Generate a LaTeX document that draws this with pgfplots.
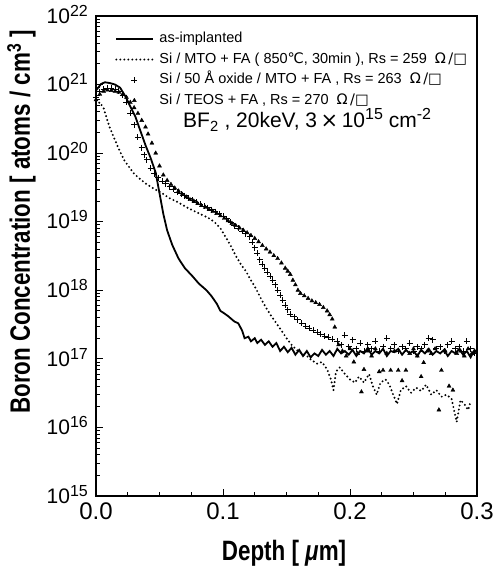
\documentclass[border=0pt]{standalone}
\usepackage{pgfplots}
\pgfplotsset{compat=1.18}
\usepackage{fontspec}
\setmainfont{Liberation Sans}
\newfontfamily\dejavu{DejaVu Sans}
\newcommand{\ohmsq}{\ \ {\dejavu Ω\,/□}}
\newcommand{\ex}[1]{10\raisebox{7pt}[0pt][0pt]{\fontsize{16}{16}\selectfont #1}}
\begin{document}
\begin{tikzpicture}
\begin{axis}[
  at={(0pt,0pt)}, anchor=south west,
  scale only axis, width=381pt, height=480pt,
  xmin=0, xmax=0.3, ymode=log, ymin=1e15, ymax=1e22,
  xtick={0,0.1,0.2,0.3}, xticklabels={0.0,0.1,0.2,0.3},
  minor x tick num=3,
  ytick={1e15,1e16,1e17,1e18,1e19,1e20,1e21,1e22},
  yticklabels={\ex{15},\ex{16},\ex{17},\ex{18},\ex{19},\ex{20},\ex{21},\ex{22}},
  minor ytick={2e15,3e15,4e15,5e15,6e15,7e15,8e15,9e15,
               2e16,3e16,4e16,5e16,6e16,7e16,8e16,9e16,
               2e17,3e17,4e17,5e17,6e17,7e17,8e17,9e17,
               2e18,3e18,4e18,5e18,6e18,7e18,8e18,9e18,
               2e19,3e19,4e19,5e19,6e19,7e19,8e19,9e19,
               2e20,3e20,4e20,5e20,6e20,7e20,8e20,9e20,
               2e21,3e21,4e21,5e21,6e21,7e21,8e21,9e21},
  tick pos=left, tick align=inside,
  major tick length=7pt, minor tick length=4pt,
  axis line style={line width=1.5pt},
  every tick/.style={black, line width=0.9pt},
  xticklabel style={font=\fontsize{24}{24}\selectfont, inner sep=0pt, yshift=-7pt},
  yticklabel style={font=\fontsize{21}{21}\selectfont, inner sep=0pt, xshift=-8pt},
  legend cell align=left,
  legend style={draw=none, fill=none, at={(0.05,0.968)}, anchor=north west,
    font=\fontsize{14.5}{16}\selectfont, row sep=5.5pt, inner sep=0pt,
    nodes={inner sep=1pt, text height=10pt, text depth=3pt},
    /tikz/every odd column/.append style={column sep=4pt}},
]
% as-implanted
\addplot[black, line width=1.8pt, legend image code/.code={\draw[black,line width=1.8pt] (0pt,0pt)--(37pt,0pt);}] coordinates {
(0.000,8.2e20)(0.004,1.02e21)(0.007,1.08e21)(0.011,1.05e21)(0.015,1.0e21)(0.019,9.0e20)
(0.023,6.8e20)(0.027,4.8e20)(0.031,3.4e20)(0.035,2.1e20)(0.039,1.3e20)(0.043,8.5e19)
(0.047,5.2e19)(0.050,2.6e19)(0.053,1.3e19)(0.056,7.5e18)(0.060,4.6e18)(0.065,2.9e18)
(0.070,2.1e18)(0.076,1.6e18)(0.081,1.25e18)(0.087,1.0e18)(0.091,8.2e17)(0.095,6.4e17)
(0.098,5.0e17)(0.101,4.6e17)(0.104,4.2e17)(0.106,3.9e17)(0.109,3.5e17)(0.112,3.3e17)
(0.115,2.6e17)(0.117,2.0e17)(0.120,2.1e17)(0.122,1.8e17)(0.125,2.0e17)(0.127,1.7e17)
(0.130,1.9e17)(0.133,1.6e17)(0.136,1.8e17)(0.139,1.5e17)(0.142,1.7e17)(0.145,1.3e17)
(0.148,1.5e17)(0.151,1.25e17)(0.154,1.45e17)(0.157,1.15e17)(0.160,1.35e17)(0.163,1.1e17)
(0.166,1.3e17)(0.169,1.05e17)(0.172,1.2e17)(0.175,1.1e17)(0.178,1.35e17)(0.181,1.15e17)
(0.184,1.3e17)(0.187,1.1e17)(0.190,1.4e17)(0.193,1.2e17)(0.196,1.3e17)(0.199,1.15e17)
(0.202,1.35e17)(0.205,1.1e17)(0.208,1.3e17)(0.211,1.2e17)(0.214,1.45e17)(0.217,1.15e17)
(0.220,1.3e17)(0.223,1.2e17)(0.226,1.4e17)(0.229,1.1e17)(0.232,1.3e17)(0.235,1.25e17)
(0.238,1.4e17)(0.241,1.15e17)(0.244,1.35e17)(0.247,1.2e17)(0.250,1.3e17)(0.253,1.1e17)
(0.256,1.35e17)(0.259,1.2e17)(0.262,1.4e17)(0.265,1.15e17)(0.268,1.3e17)(0.271,1.2e17)
(0.274,1.35e17)(0.277,1.1e17)(0.280,1.3e17)(0.283,1.2e17)(0.286,1.4e17)(0.289,1.15e17)
(0.292,1.3e17)(0.295,1.05e17)(0.298,1.35e17)(0.300,1.2e17)
};
\addlegendentry{as-implanted}
% MTO dotted
\addplot[black, line width=2.2pt, line cap=round, dash pattern=on 0pt off 4pt,
  legend image code/.code={\draw[black,line width=2.2pt,line cap=round,dash pattern=on 0pt off 4pt] (0pt,0pt)--(37pt,0pt);}] coordinates {
(0.000,5.0e20)(0.003,5.5e20)(0.006,4.5e20)(0.010,2.6e20)(0.014,1.7e20)(0.018,1.15e20)
(0.022,8.0e19)(0.026,6.3e19)(0.030,5.0e19)(0.034,4.3e19)(0.040,3.5e19)(0.046,3.0e19)
(0.052,2.6e19)(0.058,2.2e19)(0.065,1.9e19)(0.072,1.6e19)(0.080,1.35e19)(0.088,1.15e19)
(0.093,1.0e19)(0.098,8.0e18)(0.102,6.0e18)(0.106,4.5e18)(0.110,3.2e18)(0.114,2.4e18)
(0.118,1.9e18)(0.122,1.4e18)(0.126,1.05e18)(0.130,7.5e17)(0.134,5.5e17)(0.138,4.2e17)
(0.142,3.3e17)(0.146,2.6e17)(0.150,2.0e17)(0.154,1.6e17)(0.158,1.35e17)(0.162,1.2e17)
(0.166,1.1e17)(0.170,9.5e16)(0.174,8.5e16)(0.178,9.0e16)(0.182,7.0e16)(0.185,5.0e16)
(0.187,3.5e16)(0.189,6.5e16)(0.192,7.5e16)(0.196,6.0e16)(0.200,5.0e16)(0.204,4.5e16)
(0.207,5.5e16)(0.211,4.5e16)(0.215,6.0e16)(0.218,4.0e16)(0.221,3.0e16)(0.224,4.5e16)
(0.228,5.0e16)(0.231,4.2e16)(0.234,3.0e16)(0.237,2.2e16)(0.240,3.5e16)(0.244,4.0e16)
(0.248,3.2e16)(0.252,3.8e16)(0.256,3.4e16)(0.260,4.2e16)(0.264,3.0e16)(0.268,3.5e16)
(0.272,2.8e16)(0.276,3.0e16)(0.280,2.6e16)(0.284,1.2e16)(0.287,2.5e16)(0.290,2.2e16)
(0.293,1.8e16)(0.295,2.4e16)
};
\addlegendentry{Si / MTO + FA ( 850{\dejavu ℃}, 30min ), Rs = 259\ohmsq}
% 50A oxide plus
\addplot[black, only marks, mark=+, mark size=3pt, mark options={line width=0.9pt},
  legend image code/.code={\draw[black,line width=0.9pt] plot[mark=+,mark size=3pt] coordinates {(18pt,0pt)};}] coordinates {
(0.000,6.5e20)(0.003,7.8e20)(0.006,8.6e20)(0.009,8.9e20)(0.012,8.8e20)(0.015,8.6e20)
(0.018,8.0e20)(0.021,7.0e20)(0.024,5.5e20)(0.027,3.8e20)(0.030,2.6e20)(0.033,1.7e20)
(0.036,1.2e20)(0.038,9.5e19)(0.040,8.0e19)(0.043,6.0e19)(0.046,5.0e19)(0.049,4.4e19)
(0.052,3.9e19)(0.055,3.6e19)(0.058,3.25e19)(0.061,2.95e19)(0.064,2.7e19)(0.067,2.55e19)
(0.070,2.4e19)(0.073,2.2e19)(0.076,2.05e19)(0.079,1.92e19)(0.082,1.8e19)(0.085,1.68e19)
(0.088,1.6e19)(0.091,1.5e19)(0.094,1.4e19)(0.097,1.3e19)(0.100,1.2e19)(0.103,1.1e19)
(0.106,9.8e18)(0.109,8.8e18)(0.112,8.0e18)(0.115,7.3e18)(0.118,6.7e18)(0.121,6.0e18)
(0.123,5.0e18)(0.125,4.2e18)(0.127,3.5e18)(0.129,2.8e18)(0.131,2.4e18)(0.133,2.1e18)
(0.135,1.85e18)(0.137,1.6e18)(0.139,1.4e18)(0.141,1.2e18)(0.143,1.0e18)(0.145,8.5e17)
(0.147,7.2e17)(0.149,6.0e17)(0.151,5.2e17)(0.153,4.5e17)(0.156,4.1e17)(0.159,3.7e17)
(0.162,3.3e17)(0.165,3.0e17)(0.168,2.8e17)(0.171,2.6e17)(0.174,2.45e17)(0.177,2.3e17)
(0.180,2.15e17)(0.183,2.05e17)(0.186,1.95e17)
(0.190,1.8e17)(0.193,1.6e17)(0.196,2.2e17)(0.199,1.5e17)(0.202,1.9e17)
(0.205,1.4e17)(0.208,1.7e17)(0.211,1.3e17)(0.214,1.6e17)(0.217,1.4e17)(0.220,1.8e17)
(0.223,1.3e17)(0.226,1.5e17)(0.229,2.0e17)(0.232,1.4e17)(0.235,1.6e17)(0.238,1.3e17)
(0.241,1.5e17)(0.244,1.4e17)(0.247,1.7e17)(0.250,1.3e17)(0.253,1.5e17)(0.256,1.4e17)
(0.259,1.6e17)(0.262,2.0e17)(0.265,1.9e17)(0.268,1.4e17)(0.271,1.5e17)(0.274,1.3e17)
(0.277,1.6e17)(0.280,1.8e17)(0.283,1.4e17)(0.286,1.5e17)(0.289,1.3e17)(0.292,1.8e17)
(0.295,1.4e17)(0.298,1.2e17)
};
\addlegendentry{Si / 50 Å oxide / MTO + FA , Rs = 263\ohmsq}
% TEOS triangles
\addplot[black, only marks, mark=triangle*, mark size=2.3pt,
  legend image code/.code={\draw[black] plot[mark=triangle*,mark size=2.3pt] coordinates {(18pt,0pt)};}] coordinates {
(0.000,6.0e20)(0.003,7.2e20)(0.006,8.0e20)(0.009,8.3e20)(0.012,8.2e20)(0.015,8.0e20)
(0.018,7.7e20)(0.021,7.2e20)(0.024,6.5e20)(0.027,5.5e20)(0.030,4.6e20)(0.033,3.8e20)
(0.036,3.0e20)(0.039,2.4e20)(0.041,1.9e20)(0.044,1.4e20)(0.047,1.0e20)(0.050,6.5e19)
(0.053,4.8e19)(0.056,4.0e19)(0.059,3.5e19)(0.062,3.1e19)(0.065,2.8e19)(0.068,2.5e19)
(0.071,2.3e19)(0.074,2.1e19)(0.077,2.0e19)(0.080,1.85e19)(0.083,1.72e19)(0.086,1.62e19)
(0.089,1.5e19)(0.092,1.42e19)(0.095,1.32e19)(0.098,1.22e19)(0.101,1.12e19)(0.104,1.03e19)
(0.107,9.5e18)(0.110,8.8e18)(0.113,8.1e18)(0.116,7.5e18)(0.119,6.9e18)(0.122,6.3e18)
(0.125,5.7e18)(0.128,5.1e18)(0.131,4.5e18)(0.134,4.0e18)(0.137,3.6e18)(0.140,3.2e18)
(0.143,2.9e18)(0.146,2.5e18)(0.149,2.1e18)(0.151,1.9e18)(0.153,1.7e18)(0.155,1.4e18)
(0.157,1.2e18)(0.159,1.0e18)(0.161,9.0e17)(0.164,8.3e17)(0.167,7.6e17)(0.170,7.0e17)
(0.173,6.6e17)(0.176,6.2e17)(0.179,5.6e17)(0.182,5.0e17)(0.184,4.4e17)(0.186,3.8e17)
(0.188,2.9e17)(0.191,1.6e17)
(0.194,1.3e17)(0.197,1.1e17)(0.200,1.4e17)(0.203,9.0e16)(0.206,1.2e17)(0.209,3.3e16)
(0.211,7.0e16)(0.214,1.3e17)(0.217,1.1e17)(0.220,1.4e17)(0.223,6.5e16)(0.226,6.8e16)
(0.229,1.2e17)(0.232,6.8e16)(0.235,1.3e17)(0.238,6.8e16)(0.241,4.8e16)(0.244,6.8e16)
(0.247,1.2e17)(0.250,1.4e17)(0.253,1.1e17)(0.256,5.5e16)(0.258,8.8e16)(0.261,1.3e17)
(0.264,1.2e17)(0.267,1.4e17)(0.270,1.8e16)(0.272,6.8e16)(0.275,1.3e17)(0.278,4.0e16)
(0.281,3.5e16)(0.284,1.2e17)(0.287,1.3e17)(0.290,1.1e17)(0.293,1.4e17)(0.296,1.2e17)
};
\addlegendentry{Si / TEOS + FA , Rs = 270\ohmsq}
\end{axis}
\node[anchor=base west, inner sep=0pt, font=\fontsize{21}{21}\selectfont] at (87pt,368pt)
  {BF\textsubscript{2}\ ,\ 20keV,\ 3\,{\dejavu ×}\,10\raisebox{8pt}{\fontsize{16}{16}\selectfont 15}\ cm\raisebox{8pt}{\fontsize{16}{16}\selectfont -2}};
\node[anchor=base, inner sep=0pt] at (188pt,-64pt)
  {\scalebox{0.8}[1]{\fontsize{28}{28}\selectfont\bfseries Depth [ \textit{μ}m]}};
\node[rotate=90, anchor=base, inner sep=0pt] at (-66pt,274pt)
  {\scalebox{0.8}[1]{\fontsize{28}{28}\selectfont\bfseries Boron Concentration [ atoms / cm\textsuperscript{3} ]}};
\pgfresetboundingbox
\useasboundingbox (-96pt,-73pt) rectangle (404pt,496pt);
\end{tikzpicture}
\end{document}
